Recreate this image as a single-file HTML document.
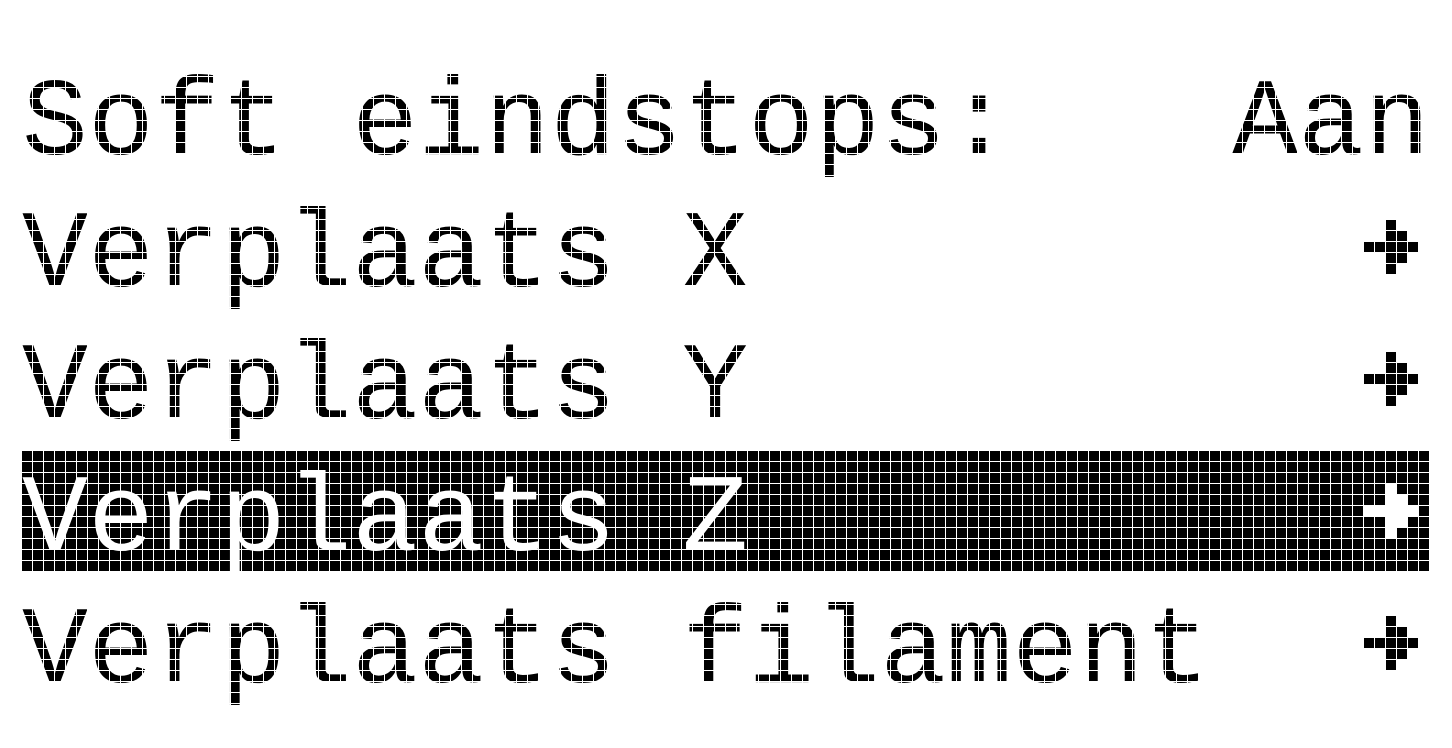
<!DOCTYPE html>
<html><head><meta charset="utf-8"><style>
html,body{margin:0;padding:0;background:#fff;}
#wrap{position:relative;width:1452px;height:748px;overflow:hidden;background:#fff;}
svg{position:absolute;left:0;top:0;}
#grid{position:absolute;left:0;top:0;width:1452px;height:748px;
background-image:linear-gradient(to right,transparent 0,transparent 10px,#fff 10px,#fff 11px),
linear-gradient(to bottom,transparent 0,transparent 10px,#fff 10px,#fff 11px);
background-size:11px 100%,100% 11px;
background-position:22px 0,0 22px;}
</style></head><body><div id="wrap">
<svg width="1452" height="748" viewBox="0 0 1452 748" font-family="Liberation Mono, monospace" font-size="110">
<text x="22" y="154" fill="#000">Soft eindstops:</text>
<text x="1232" y="154" fill="#000">Aan</text>
<text x="22" y="286" fill="#000">Verplaats X</text>
<text x="22" y="418" fill="#000">Verplaats Y</text>
<rect x="22" y="451" width="1408" height="121" fill="#000"/>
<text x="22" y="550" fill="#fff">Verplaats Z</text>
<text x="22" y="682" fill="#000">Verplaats filament</text>
<rect x="1386" y="220" width="10" height="55"/>
<rect x="1386" y="231" width="21" height="32"/>
<rect x="1364" y="242" width="55" height="10"/>
<rect x="1386" y="352" width="10" height="55"/>
<rect x="1386" y="363" width="21" height="32"/>
<rect x="1364" y="374" width="55" height="10"/>
<rect x="1386" y="616" width="10" height="55"/>
<rect x="1386" y="627" width="21" height="32"/>
<rect x="1364" y="638" width="55" height="10"/>
<g fill="#fff">
<rect x="1386" y="484" width="10" height="55"/>
<rect x="1386" y="495" width="21" height="32"/>
<rect x="1364" y="506" width="55" height="10"/>
</g>
</svg>
<div id="grid"></div>
</div></body></html>
